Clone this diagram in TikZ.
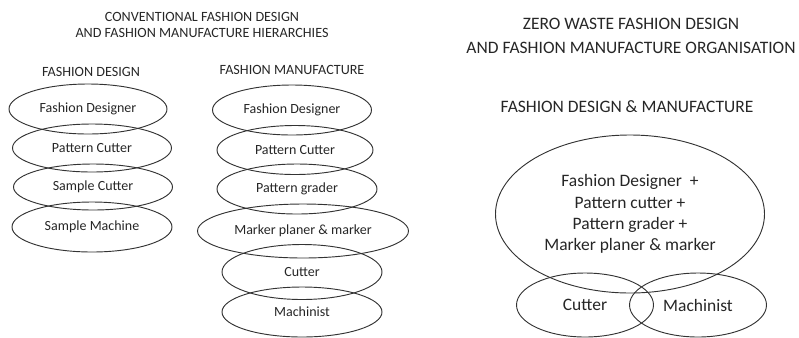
\documentclass[tikz,border=0pt]{standalone}
\usepackage{fontspec}
\setmainfont{Carlito}
\usetikzlibrary{shapes.geometric}
\begin{document}
\begin{tikzpicture}[x=0.75pt,y=-0.75pt,
		sz/.style 2 args={minimum width=#1*0.75pt,minimum height=#2*0.75pt},
		oval/.style={ellipse,draw=black!80,line width=0.7pt,inner sep=0pt,
			text=black!85,font=\fontsize{10.5}{12}\selectfont},
		bigoval/.style={ellipse,draw=black!80,line width=0.7pt,inner sep=0pt,
			text=black!85,font=\fontsize{13.1}{16}\selectfont,align=center},
		head/.style={text=black!85,font=\fontsize{10.6}{12}\selectfont,align=center},
		bighead/.style={text=black!85,font=\fontsize{13.1}{18}\selectfont,align=center}]
		\useasboundingbox (0,0) rectangle (799,337);
		% left: conventional
		\node[head] (title1) at (202,25) {CONVENTIONAL FASHION DESIGN\\AND FASHION MANUFACTURE HIERARCHIES};
		\node[head] (design) at (91,72) {FASHION DESIGN};
		\node[head] (manuf) at (292,70) {FASHION MANUFACTURE};
		\node[oval,sz={158}{50}] (d1) at (88,109) {Fashion Designer};
		\node[oval,sz={159}{48}] (d2) at (92,148) {Pattern Cutter};
		\node[oval,sz={159}{46}] (d3) at (93,187) {Sample Cutter};
		\node[oval,sz={160}{50}] (d4) at (92,227) {Sample Machine};
		\node[oval,sz={159}{50}] (m1) at (292,110) {Fashion Designer};
		\node[oval,sz={156}{49}] (m2) at (295,150) {Pattern Cutter};
		\node[oval,sz={160}{50}] (m3) at (297,189) {Pattern grader};
		\node[oval,sz={211}{54}] (m4) at (303,231) {Marker planer \& marker};
		\node[oval,sz={160}{55}] (m5) at (302,272) {Cutter};
		\node[oval,sz={160}{50}] (m6) at (302,312) {Machinist};
		% right: zero waste
		\node[bighead] (title2) at (631,36) {ZERO WASTE FASHION DESIGN\\AND FASHION MANUFACTURE ORGANISATION};
		\node[bighead] (both) at (627,107) {FASHION DESIGN \& MANUFACTURE};
		\node[bigoval,sz={269}{158}] (all) at (630,214)
		{Fashion Designer \ +\\Pattern cutter +\\Pattern grader +\\Marker planer \& marker};
		\node[bigoval,sz={137}{64}] (cut) at (585,305) {Cutter};
		\node[bigoval,sz={137}{64}] (mach) at (698,305) {Machinist};
\end{tikzpicture}
\end{document}
